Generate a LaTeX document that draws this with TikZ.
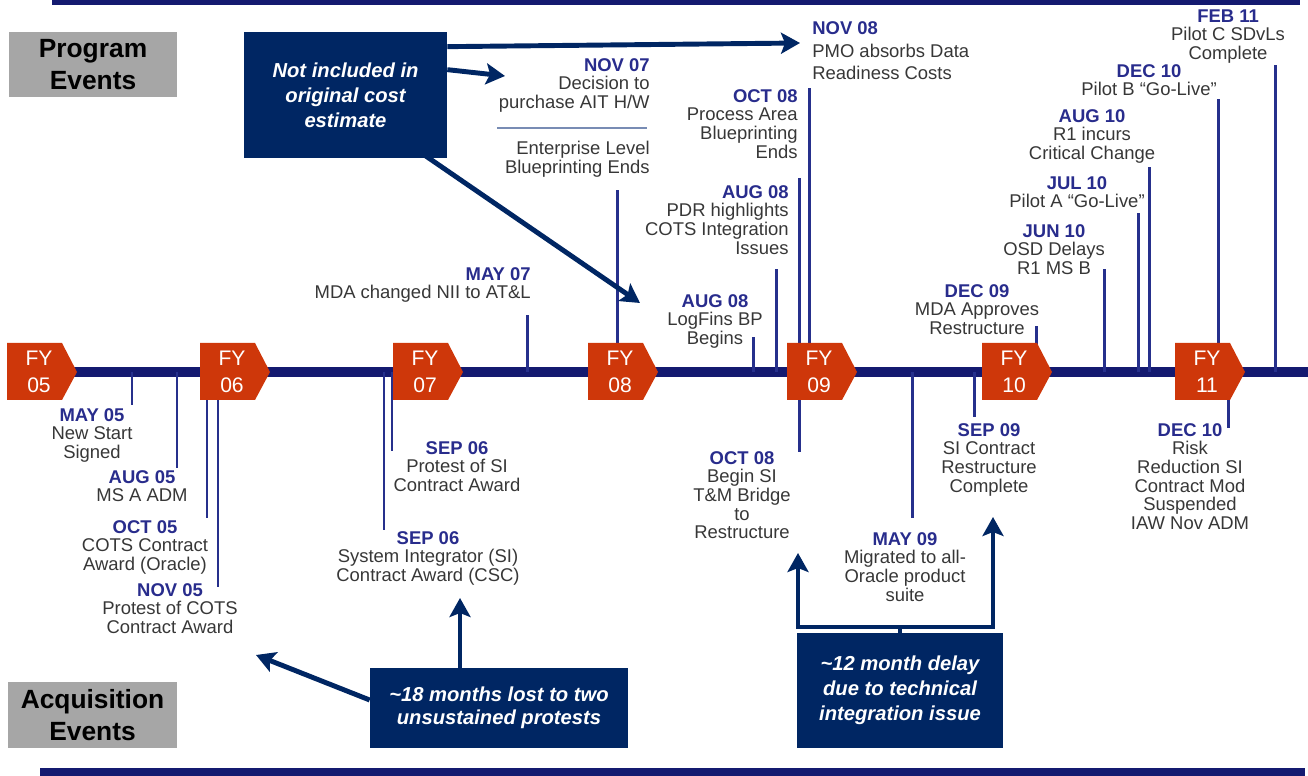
\documentclass[tikz,border=0pt]{standalone}
\usepackage{fontspec}
\setmainfont{Liberation Sans}
\usetikzlibrary{arrows.meta,calc}

\definecolor{navy}{RGB}{0,38,99}
\definecolor{lineblue}{RGB}{20,26,112}
\definecolor{tickblue}{RGB}{38,48,140}
\definecolor{datec}{RGB}{40,44,140}
\definecolor{descc}{RGB}{55,55,55}
\definecolor{fyred}{RGB}{206,55,10}
\definecolor{boxgray}{RGB}{166,166,166}
\definecolor{sepblue}{RGB}{120,140,180}

\newcommand{\evdate}[1]{{\bfseries\color{datec}#1}}

\tikzset{
  evt/.style={font=\fontsize{10.5}{10.6}\selectfont, text=descc, inner sep=0pt, align=center},
  evtick/.style={tickblue, line width=1.7pt},
  fy/.style={text=white, font=\fontsize{12}{15.4}\selectfont, align=center, inner sep=0pt},
  notebox/.style={fill=navy, text=white, font=\fontsize{11.5}{14.2}\selectfont\bfseries\itshape, align=center, inner sep=0pt},
  callarr/.style={navy, line width=2.8pt, -{Stealth[length=0.38cm, width=0.42cm, inset=0.08cm]}},
  bracket/.style={navy, line width=2.8pt, line join=miter, {Stealth[length=0.38cm, width=0.42cm, inset=0.08cm]}-{Stealth[length=0.38cm, width=0.42cm, inset=0.08cm]}},
  grp/.style={fill=boxgray, font=\fontsize{15}{18.2}\selectfont\bfseries, align=center, inner sep=0pt},
}

\begin{document}
\begin{tikzpicture}[x=0.02cm, y=-0.02cm]
\useasboundingbox (0,0) rectangle (1308,776);
% rules at top and bottom
\fill[lineblue] (52,0) rectangle (1300,5);
\fill[lineblue] (40,768) rectangle (1305,776);

\node[grp, minimum width=3.36cm, minimum height=1.3cm] (prog) at (93,64.5) {Program\\Events};
\node[grp, minimum width=3.38cm, minimum height=1.32cm] (acq) at (92.5,715) {Acquisition\\Events};

% timeline and event ticks
\draw[lineblue, line width=6.2pt] (70,372) -- (1308,372);
\foreach \x/\y in {527/315, 617/190, 753/337, 776/269, 799/178, 809/88, 1036/326, 1104/269, 1138/213, 1149/167, 1218/99, 1275/65,
                   132/405, 177/468, 207/518, 218/587, 392/451, 384/530, 799/452, 912/518, 974/417, 1228/428}
  \draw[evtick] (\x,372) -- (\x,\y);

% fiscal years
\foreach \yr/\x in {05/7,06/200,07/393,08/588,09/787,10/982,11/1175}{
  \fill[fyred] (\x,343) -- ++(55,0) -- ++(15,29) -- ++(-15,28) -- ++(-55,0) -- cycle;
  \node[fy] (fy\yr) at (\x+32,372) {FY\\\yr};
}

% program events
\node[evt, anchor=north east, align=right] (may07) at (531,267) {\evdate{MAY 07}\\MDA changed NII to AT\&L};
\node[evt, anchor=north east, align=right] (nov07) at (650,58) {\evdate{NOV 07}\\Decision to\\purchase AIT H/W};
\draw[sepblue, line width=0.7pt] (497,128) -- (647,128);
\node[evt, anchor=north east, align=right] (ent) at (650,141) {Enterprise Level\\Blueprinting Ends};
\node[evt, anchor=north] (aug08a) at (715,294) {\evdate{AUG 08}\\LogFins BP\\Begins};
\node[evt, anchor=north east, align=right] (aug08b) at (789,185) {\evdate{AUG 08}\\PDR highlights\\COTS Integration\\Issues};
\node[evt, anchor=north east, align=right] (oct08a) at (798,89) {\evdate{OCT 08}\\Process Area\\Blueprinting\\Ends};
\node[evt, anchor=north west, align=left] (nov08) at (812,21) {\evdate{NOV 08}\\[2.4pt]PMO absorbs Data\\[2.4pt]Readiness Costs};
\node[evt, anchor=north] (dec09) at (977,284) {\evdate{DEC 09}\\MDA Approves\\Restructure};
\node[evt, anchor=north] (jun10) at (1054,224) {\evdate{JUN 10}\\OSD Delays\\R1 MS B};
\node[evt, anchor=north] (jul10) at (1077,176) {\evdate{JUL 10}\\Pilot A ``Go-Live''};
\node[evt, anchor=north] (aug10) at (1092,109) {\evdate{AUG 10}\\R1 incurs\\Critical Change};
\node[evt, anchor=north] (dec10a) at (1149,64) {\evdate{DEC 10}\\Pilot B ``Go-Live''};
\node[evt, anchor=north] (feb11) at (1228,9) {\evdate{FEB 11}\\Pilot C SDvLs\\Complete};

% acquisition events
\node[evt, anchor=north] (may05) at (92,408) {\evdate{MAY 05}\\New Start\\Signed};
\node[evt, anchor=north] (aug05) at (142,470) {\evdate{AUG 05}\\MS A ADM};
\node[evt, anchor=north] (oct05) at (145,520) {\evdate{OCT 05}\\COTS Contract\\Award (Oracle)};
\node[evt, anchor=north] (nov05) at (170,583) {\evdate{NOV 05}\\Protest of COTS\\Contract Award};
\node[evt, anchor=north] (sep06a) at (457,441) {\evdate{SEP 06}\\Protest of SI\\Contract Award};
\node[evt, anchor=north] (sep06b) at (428,531) {\evdate{SEP 06}\\System Integrator (SI)\\Contract Award (CSC)};
\node[evt, anchor=north] (oct08b) at (742,451) {\evdate{OCT 08}\\Begin SI\\T\&M Bridge\\to\\Restructure};
\node[evt, anchor=north] (may09) at (905,532) {\evdate{MAY 09}\\Migrated to all-\\Oracle product\\suite};
\node[evt, anchor=north] (sep09) at (989,423) {\evdate{SEP 09}\\SI Contract\\Restructure\\Complete};
\node[evt, anchor=north] (dec10b) at (1190,423) {\evdate{DEC 10}\\Risk\\Reduction SI\\Contract Mod\\Suspended\\IAW Nov ADM};

% call-outs
\node[notebox, minimum width=4.06cm, minimum height=2.52cm] (cost) at (345.5,95) {Not included in\\original cost\\estimate};
\node[notebox, minimum width=5.16cm, minimum height=1.6cm] (protest) at (499,708) {\textasciitilde18 months lost to two\\[-1.2pt]unsustained protests};
\node[notebox, minimum width=4.12cm, minimum height=2.3cm] (delay) at (900,690.5) {\textasciitilde12 month delay\\due to technical\\integration issue};

\coordinate (pmo) at (800,43);
\coordinate (aith) at (505,76);
\coordinate (fy08top) at (640,303);
\draw[callarr] ($(cost.north east)+(0,15)$) -- (pmo);
\draw[callarr] ($(cost.north east)+(0,38)$) -- (aith);
\draw[callarr] ($(cost.south east)+(-24,-4)$) -- (fy08top);

\coordinate (siaward) at (460,598);
\coordinate (cotsprot) at (256,655);
\draw[callarr] ($(protest.north)+(-39,0)$) -- (siaward);
\draw[callarr] ($(protest.west)+(0,-8)$) -- (cotsprot);

\coordinate (brl) at (798,627);
\coordinate (brr) at (993,627);
\coordinate (bridge) at (798,553);
\coordinate (restr) at (993,517);
\draw[navy, line width=2.8pt] (delay.north) -- (delay.north |- brl);
\draw[bracket] (bridge) -- (brl) -- (brr) -- (restr);
\end{tikzpicture}
\end{document}
